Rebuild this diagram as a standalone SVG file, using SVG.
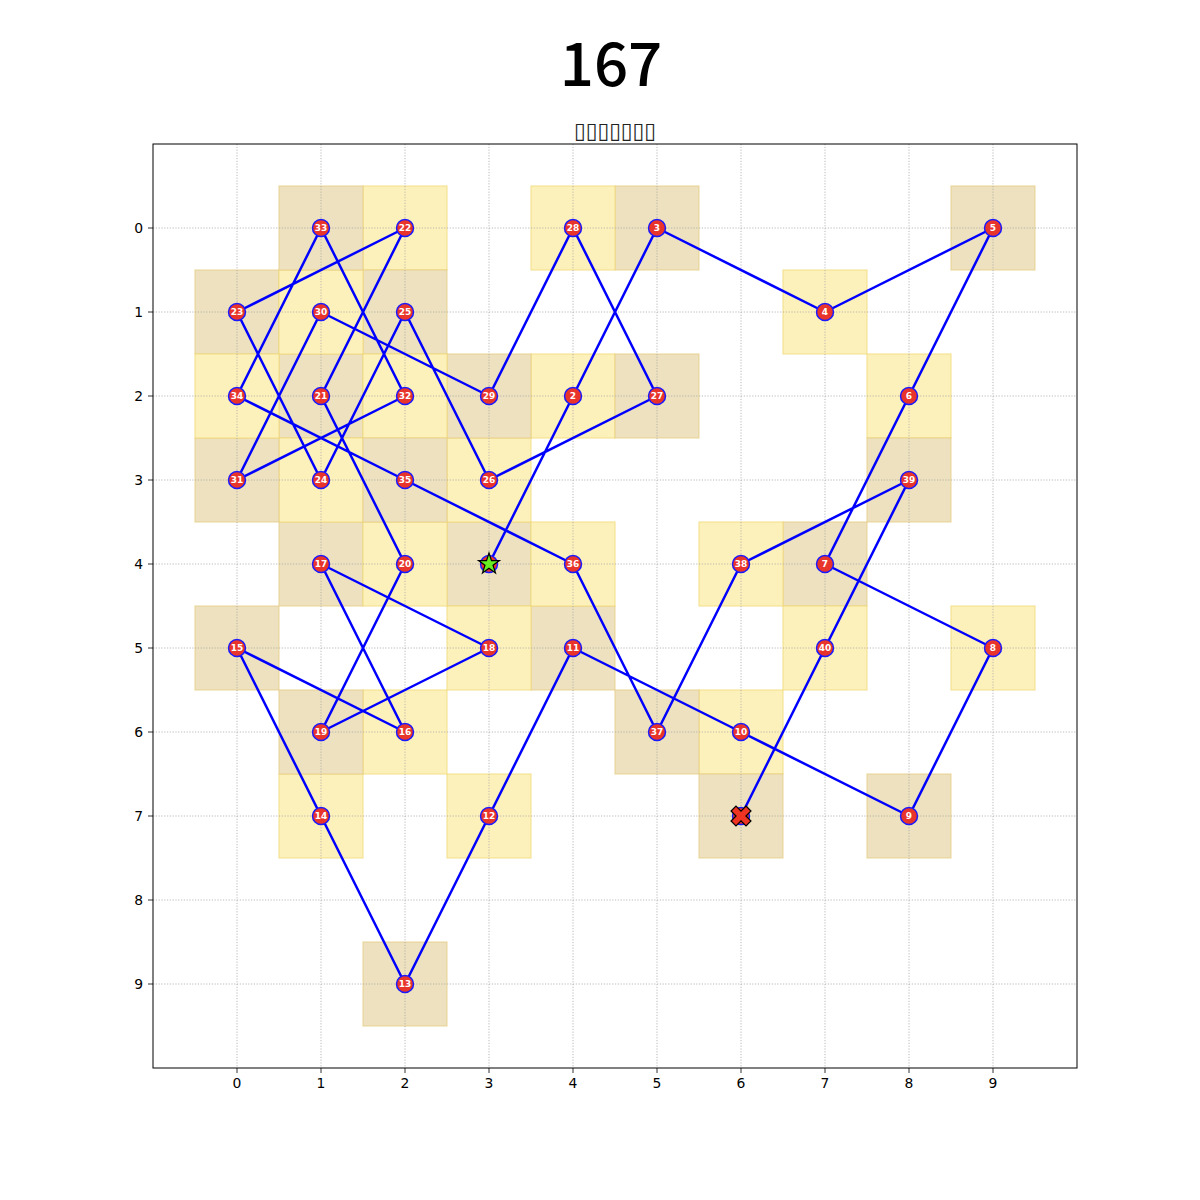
<svg xmlns="http://www.w3.org/2000/svg" width="1200" height="1200" viewBox="0 0 1200 1200">
<style>
.t{fill:#EEE1BF;stroke:#E6CF86;stroke-opacity:0.7;stroke-width:1.2}
.y{fill:#FDF1BB;stroke:#F0D878;stroke-opacity:0.7;stroke-width:1.2}
.g{stroke:#a8a8a8;stroke-width:0.8;stroke-dasharray:1.2,1.6;fill:none}
.n{fill:#E8342A;stroke:#1a1aff;stroke-width:1.5}
.l{fill:#fff;font-family:"DejaVu Sans",sans-serif;font-weight:bold;font-size:9px;text-anchor:middle}
.tk{fill:#000;font-family:"DejaVu Sans",sans-serif;font-size:13.9px}
</style>
<rect width="1200" height="1200" fill="#fff"/>
<text x="611" y="86" font-family="'Noto Sans CJK SC','Noto Sans',sans-serif" font-weight="500" font-size="60" text-anchor="middle">167</text>
<text x="615" y="138" font-family="'DejaVu Sans',sans-serif" font-size="22" fill="#222" text-anchor="middle" textLength="82" lengthAdjust="spacingAndGlyphs">▯▯▯▯▯▯▯</text>
<g id="cells">
<rect class="t" x="447" y="522" width="84" height="84"/>
<rect class="y" x="531" y="354" width="84" height="84"/>
<rect class="t" x="615" y="186" width="84" height="84"/>
<rect class="y" x="783" y="270" width="84" height="84"/>
<rect class="t" x="951" y="186" width="84" height="84"/>
<rect class="y" x="867" y="354" width="84" height="84"/>
<rect class="t" x="783" y="522" width="84" height="84"/>
<rect class="y" x="951" y="606" width="84" height="84"/>
<rect class="t" x="867" y="774" width="84" height="84"/>
<rect class="y" x="699" y="690" width="84" height="84"/>
<rect class="t" x="531" y="606" width="84" height="84"/>
<rect class="y" x="447" y="774" width="84" height="84"/>
<rect class="t" x="363" y="942" width="84" height="84"/>
<rect class="y" x="279" y="774" width="84" height="84"/>
<rect class="t" x="195" y="606" width="84" height="84"/>
<rect class="y" x="363" y="690" width="84" height="84"/>
<rect class="t" x="279" y="522" width="84" height="84"/>
<rect class="y" x="447" y="606" width="84" height="84"/>
<rect class="t" x="279" y="690" width="84" height="84"/>
<rect class="y" x="363" y="522" width="84" height="84"/>
<rect class="t" x="279" y="354" width="84" height="84"/>
<rect class="y" x="363" y="186" width="84" height="84"/>
<rect class="t" x="195" y="270" width="84" height="84"/>
<rect class="y" x="279" y="438" width="84" height="84"/>
<rect class="t" x="363" y="270" width="84" height="84"/>
<rect class="y" x="447" y="438" width="84" height="84"/>
<rect class="t" x="615" y="354" width="84" height="84"/>
<rect class="y" x="531" y="186" width="84" height="84"/>
<rect class="t" x="447" y="354" width="84" height="84"/>
<rect class="y" x="279" y="270" width="84" height="84"/>
<rect class="t" x="195" y="438" width="84" height="84"/>
<rect class="y" x="363" y="354" width="84" height="84"/>
<rect class="t" x="279" y="186" width="84" height="84"/>
<rect class="y" x="195" y="354" width="84" height="84"/>
<rect class="t" x="363" y="438" width="84" height="84"/>
<rect class="y" x="531" y="522" width="84" height="84"/>
<rect class="t" x="615" y="690" width="84" height="84"/>
<rect class="y" x="699" y="522" width="84" height="84"/>
<rect class="t" x="867" y="438" width="84" height="84"/>
<rect class="y" x="783" y="606" width="84" height="84"/>
<rect class="t" x="699" y="774" width="84" height="84"/>
</g>
<g id="grid" class="g">
<path d="M237 144V1068M321 144V1068M405 144V1068M489 144V1068M573 144V1068M657 144V1068M741 144V1068M825 144V1068M909 144V1068M993 144V1068"/>
<path d="M153 228H1077M153 312H1077M153 396H1077M153 480H1077M153 564H1077M153 648H1077M153 732H1077M153 816H1077M153 900H1077M153 984H1077"/>
</g>
<g id="axes">
<rect x="153" y="144" width="924" height="924" fill="none" stroke="#000" stroke-width="1"/>
<path d="M148 228H153M148 312H153M148 396H153M148 480H153M148 564H153M148 648H153M148 732H153M148 816H153M148 900H153M148 984H153" stroke="#000" stroke-width="0.8"/>
<path d="M237 1068V1073M321 1068V1073M405 1068V1073M489 1068V1073M573 1068V1073M657 1068V1073M741 1068V1073M825 1068V1073M909 1068V1073M993 1068V1073" stroke="#000" stroke-width="0.8"/>
<g class="tk" text-anchor="end">
<text x="143" y="233">0</text><text x="143" y="317">1</text><text x="143" y="401">2</text><text x="143" y="485">3</text><text x="143" y="569">4</text><text x="143" y="653">5</text><text x="143" y="737">6</text><text x="143" y="821">7</text><text x="143" y="905">8</text><text x="143" y="989">9</text>
</g>
<g class="tk" text-anchor="middle">
<text x="237" y="1088">0</text><text x="321" y="1088">1</text><text x="405" y="1088">2</text><text x="489" y="1088">3</text><text x="573" y="1088">4</text><text x="657" y="1088">5</text><text x="741" y="1088">6</text><text x="825" y="1088">7</text><text x="909" y="1088">8</text><text x="993" y="1088">9</text>
</g>
</g>
<g id="connectors">
<polyline fill="none" stroke="#0000FF" stroke-width="2.5" stroke-linejoin="round" points="489,564 573,396 657,228 825,312 993,228 909,396 825,564 993,648 909,816 741,732 573,648 489,816 405,984 321,816 237,648 405,732 321,564 489,648 321,732 405,564 321,396 405,228 237,312 321,480 405,312 489,480 657,396 573,228 489,396 321,312 237,480 405,396 321,228 237,396 405,480 573,564 657,732 741,564 909,480 825,648 741,816"/>
</g>
<g id="node1"><circle class="n" cx="489" cy="564" r="8.5"/></g>
<g id="node2"><circle class="n" cx="573" cy="396" r="8.5"/><text class="l" x="573" y="399">2</text></g>
<g id="node3"><circle class="n" cx="657" cy="228" r="8.5"/><text class="l" x="657" y="231">3</text></g>
<g id="node4"><circle class="n" cx="825" cy="312" r="8.5"/><text class="l" x="825" y="315">4</text></g>
<g id="node5"><circle class="n" cx="993" cy="228" r="8.5"/><text class="l" x="993" y="231">5</text></g>
<g id="node6"><circle class="n" cx="909" cy="396" r="8.5"/><text class="l" x="909" y="399">6</text></g>
<g id="node7"><circle class="n" cx="825" cy="564" r="8.5"/><text class="l" x="825" y="567">7</text></g>
<g id="node8"><circle class="n" cx="993" cy="648" r="8.5"/><text class="l" x="993" y="651">8</text></g>
<g id="node9"><circle class="n" cx="909" cy="816" r="8.5"/><text class="l" x="909" y="819">9</text></g>
<g id="node10"><circle class="n" cx="741" cy="732" r="8.5"/><text class="l" x="741" y="735">10</text></g>
<g id="node11"><circle class="n" cx="573" cy="648" r="8.5"/><text class="l" x="573" y="651">11</text></g>
<g id="node12"><circle class="n" cx="489" cy="816" r="8.5"/><text class="l" x="489" y="819">12</text></g>
<g id="node13"><circle class="n" cx="405" cy="984" r="8.5"/><text class="l" x="405" y="987">13</text></g>
<g id="node14"><circle class="n" cx="321" cy="816" r="8.5"/><text class="l" x="321" y="819">14</text></g>
<g id="node15"><circle class="n" cx="237" cy="648" r="8.5"/><text class="l" x="237" y="651">15</text></g>
<g id="node16"><circle class="n" cx="405" cy="732" r="8.5"/><text class="l" x="405" y="735">16</text></g>
<g id="node17"><circle class="n" cx="321" cy="564" r="8.5"/><text class="l" x="321" y="567">17</text></g>
<g id="node18"><circle class="n" cx="489" cy="648" r="8.5"/><text class="l" x="489" y="651">18</text></g>
<g id="node19"><circle class="n" cx="321" cy="732" r="8.5"/><text class="l" x="321" y="735">19</text></g>
<g id="node20"><circle class="n" cx="405" cy="564" r="8.5"/><text class="l" x="405" y="567">20</text></g>
<g id="node21"><circle class="n" cx="321" cy="396" r="8.5"/><text class="l" x="321" y="399">21</text></g>
<g id="node22"><circle class="n" cx="405" cy="228" r="8.5"/><text class="l" x="405" y="231">22</text></g>
<g id="node23"><circle class="n" cx="237" cy="312" r="8.5"/><text class="l" x="237" y="315">23</text></g>
<g id="node24"><circle class="n" cx="321" cy="480" r="8.5"/><text class="l" x="321" y="483">24</text></g>
<g id="node25"><circle class="n" cx="405" cy="312" r="8.5"/><text class="l" x="405" y="315">25</text></g>
<g id="node26"><circle class="n" cx="489" cy="480" r="8.5"/><text class="l" x="489" y="483">26</text></g>
<g id="node27"><circle class="n" cx="657" cy="396" r="8.5"/><text class="l" x="657" y="399">27</text></g>
<g id="node28"><circle class="n" cx="573" cy="228" r="8.5"/><text class="l" x="573" y="231">28</text></g>
<g id="node29"><circle class="n" cx="489" cy="396" r="8.5"/><text class="l" x="489" y="399">29</text></g>
<g id="node30"><circle class="n" cx="321" cy="312" r="8.5"/><text class="l" x="321" y="315">30</text></g>
<g id="node31"><circle class="n" cx="237" cy="480" r="8.5"/><text class="l" x="237" y="483">31</text></g>
<g id="node32"><circle class="n" cx="405" cy="396" r="8.5"/><text class="l" x="405" y="399">32</text></g>
<g id="node33"><circle class="n" cx="321" cy="228" r="8.5"/><text class="l" x="321" y="231">33</text></g>
<g id="node34"><circle class="n" cx="237" cy="396" r="8.5"/><text class="l" x="237" y="399">34</text></g>
<g id="node35"><circle class="n" cx="405" cy="480" r="8.5"/><text class="l" x="405" y="483">35</text></g>
<g id="node36"><circle class="n" cx="573" cy="564" r="8.5"/><text class="l" x="573" y="567">36</text></g>
<g id="node37"><circle class="n" cx="657" cy="732" r="8.5"/><text class="l" x="657" y="735">37</text></g>
<g id="node38"><circle class="n" cx="741" cy="564" r="8.5"/><text class="l" x="741" y="567">38</text></g>
<g id="node39"><circle class="n" cx="909" cy="480" r="8.5"/><text class="l" x="909" y="483">39</text></g>
<g id="node40"><circle class="n" cx="825" cy="648" r="8.5"/><text class="l" x="825" y="651">40</text></g>
<g id="node41"><circle class="n" cx="741" cy="816" r="8.5"/></g>
<g id="start">
<polygon transform="translate(489,564)" fill="#66EE22" stroke="#000" stroke-width="1.2" stroke-linejoin="miter" points="0,-11 2.5,-3.4 10.46,-3.4 4.0,1.3 6.47,8.9 0,4.2 -6.47,8.9 -4.0,1.3 -10.46,-3.4 -2.5,-3.4"/>
</g>
<g id="end">
<polygon transform="translate(741,816) rotate(45)" fill="#EE3322" stroke="#000" stroke-width="1.2" points="-3.5,-10.6 3.5,-10.6 3.5,-3.5 10.6,-3.5 10.6,3.5 3.5,3.5 3.5,10.6 -3.5,10.6 -3.5,3.5 -10.6,3.5 -10.6,-3.5 -3.5,-3.5"/>
</g>
</svg>
